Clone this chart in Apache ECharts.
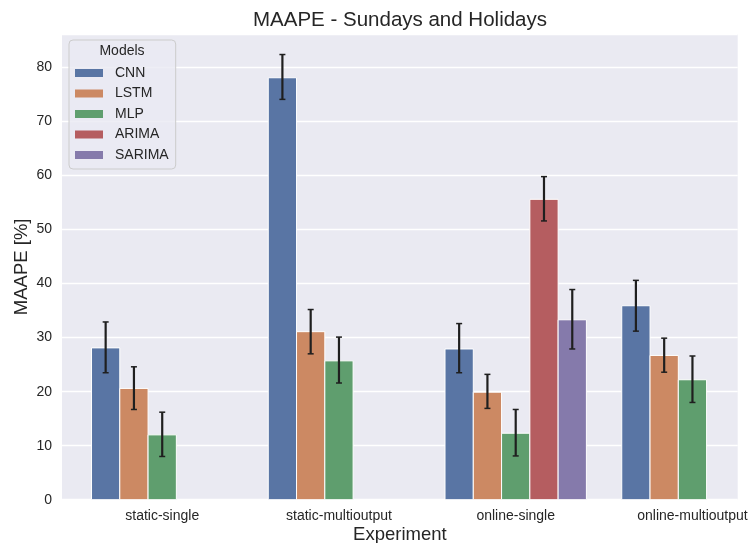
<!DOCTYPE html>
<html>
<head>
<meta charset="utf-8">
<script src="https://cdn.jsdelivr.net/npm/echarts@6/dist/echarts.min.js"></script>
<style>html,body{margin:0;padding:0;background:#fff;}#chart{width:753px;height:543px;}</style>
</head>
<body>
<div id="chart"></div>
<script>
var categories = ['static-single', 'static-multioutput', 'online-single', 'online-multioutput'];
var models = ['CNN', 'LSTM', 'MLP', 'ARIMA', 'SARIMA'];
var colors = ['#5975a4', '#cc8963', '#5f9e6e', '#b55d60', '#857aab'];
// mean values per model per category (null = not present)
var cnnValues    = [28.1, 78.1, 27.9, 35.9];
var lstmValues   = [20.6, 31.1, 19.9, 26.7];
var mlpValues    = [12.0, 25.7, 12.3, 22.2];
var arimaValues  = [null, null, 55.6, null];
var sarimaValues = [null, null, 33.3, null];
// error bar low / high
var cnnLow    = [23.5, 74.1, 23.5, 31.2];
var cnnHigh   = [32.9, 82.4, 32.6, 40.6];
var lstmLow   = [16.7, 27.0, 16.9, 23.6];
var lstmHigh  = [24.6, 35.2, 23.2, 29.9];
var mlpLow    = [8.0, 21.6, 8.1, 18.0];
var mlpHigh   = [16.2, 30.1, 16.7, 26.6];
var arimaLow  = [null, null, 51.6, null];
var arimaHigh = [null, null, 59.8, null];
var sarimaLow = [null, null, 27.9, null];
var sarimaHigh= [null, null, 38.9, null];
var yTicks = [0, 10, 20, 30, 40, 50, 60, 70, 80];

var valuesByModel = [cnnValues, lstmValues, mlpValues, arimaValues, sarimaValues];
var lowByModel = [cnnLow, lstmLow, mlpLow, arimaLow, sarimaLow];
var highByModel = [cnnHigh, lstmHigh, mlpHigh, arimaHigh, sarimaHigh];

var groupWidth = 0.8;
var barW = groupWidth / models.length;

function makeSeries(k) {
  var data = [];
  for (var i = 0; i < categories.length; i++) {
    if (valuesByModel[k][i] != null) {
      data.push([i, valuesByModel[k][i], lowByModel[k][i], highByModel[k][i]]);
    }
  }
  var offset = -groupWidth / 2 + barW * (k + 0.5);
  return {
    name: models[k],
    type: 'custom',
    itemStyle: { color: colors[k] },
    encode: { x: 0, y: [1, 2, 3] },
    data: data,
    renderItem: function (params, api) {
      var xi = api.value(0) + offset;
      var v = api.value(1), lo = api.value(2), hi = api.value(3);
      var p0 = api.coord([xi, 0]);
      var p1 = api.coord([xi, v]);
      var w = api.size([barW, 0])[0];
      var pl = api.coord([xi, lo]);
      var ph = api.coord([xi, hi]);
      var cap = 3;
      var errStyle = { stroke: '#1f1f1f', lineWidth: 2.2 };
      return {
        type: 'group',
        children: [
          { type: 'rect', shape: { x: p0[0] - w / 2, y: p1[1], width: w, height: p0[1] - p1[1] },
            style: { fill: colors[k], stroke: '#ffffff', lineWidth: 1 } },
          { type: 'line', shape: { x1: pl[0], y1: pl[1], x2: ph[0], y2: ph[1] }, style: errStyle, z2: 10 },
          { type: 'line', shape: { x1: pl[0] - cap, y1: pl[1], x2: pl[0] + cap, y2: pl[1] }, style: { stroke: '#1f1f1f', lineWidth: 1.5 }, z2: 10 },
          { type: 'line', shape: { x1: ph[0] - cap, y1: ph[1], x2: ph[0] + cap, y2: ph[1] }, style: { stroke: '#1f1f1f', lineWidth: 1.5 }, z2: 10 }
        ]
      };
    }
  };
}

var series = [];
for (var k = 0; k < models.length; k++) series.push(makeSeries(k));

var chart = echarts.init(document.getElementById('chart'), null, { renderer: 'canvas' });
chart.setOption({
  animation: false,
  backgroundColor: '#ffffff',
  textStyle: { fontFamily: 'Liberation Sans' },
  title: [
    { text: 'MAAPE - Sundays and Holidays', left: 400, top: 10, textAlign: 'center', padding: 0,
      textStyle: { fontFamily: 'Liberation Sans', fontSize: 20.5, fontWeight: 'normal', color: '#262626' } },
    { text: 'Models', left: 122, top: 44, textAlign: 'center', padding: 0,
      textStyle: { fontFamily: 'Liberation Sans', fontSize: 14, fontWeight: 'normal', color: '#262626' } }
  ],
  legend: {
    orient: 'vertical',
    left: 69, top: 40,
    padding: [26, 7, 7, 6],
    backgroundColor: 'rgba(234,234,242,0.8)',
    borderColor: '#cccccc', borderWidth: 1, borderRadius: 4,
    itemWidth: 28, itemHeight: 8, itemGap: 6.5,
    icon: 'rect',
    data: models,
    textStyle: { fontFamily: 'Liberation Sans', fontSize: 14, color: '#262626', lineHeight: 14, padding: [0, 0, 0, 7] },
    selectedMode: false
  },
  grid: {
    left: 62, right: 15.3, top: 34, bottom: 43.3,
    outerBoundsMode: 'none', containLabel: false,
    show: true, backgroundColor: '#eaeaf2', borderWidth: 0
  },
  xAxis: {
    type: 'value', min: -0.567, max: 3.256,
    name: 'Experiment', nameLocation: 'middle', nameGap: 26, nameMoveOverlap: false,
    nameTextStyle: { fontFamily: 'Liberation Sans', fontSize: 18.5, color: '#262626' },
    axisLine: { show: false }, axisTick: { show: false }, splitLine: { show: false },
    axisLabel: {
      customValues: [0, 1, 2, 3],
      formatter: function (v) { return categories[Math.round(v)] || ''; },
      fontFamily: 'Liberation Sans', fontSize: 14, color: '#262626', margin: 9
    }
  },
  yAxis: {
    type: 'value', min: 0, max: 86.2, interval: 10,
    name: 'MAAPE [%]', nameLocation: 'middle', nameGap: 31, nameMoveOverlap: false,
    nameTextStyle: { fontFamily: 'Liberation Sans', fontSize: 18.5, color: '#262626' },
    axisLine: { show: false }, axisTick: { show: false },
    splitLine: { show: true, lineStyle: { color: '#ffffff', width: 1.3 } },
    axisLabel: {
      showMaxLabel: false,
      formatter: function (v) { return yTicks.indexOf(v) >= 0 ? String(v) : ''; },
      fontFamily: 'Liberation Sans', fontSize: 14, color: '#262626', margin: 10
    }
  },
  series: series
});
</script>
</body>
</html>
